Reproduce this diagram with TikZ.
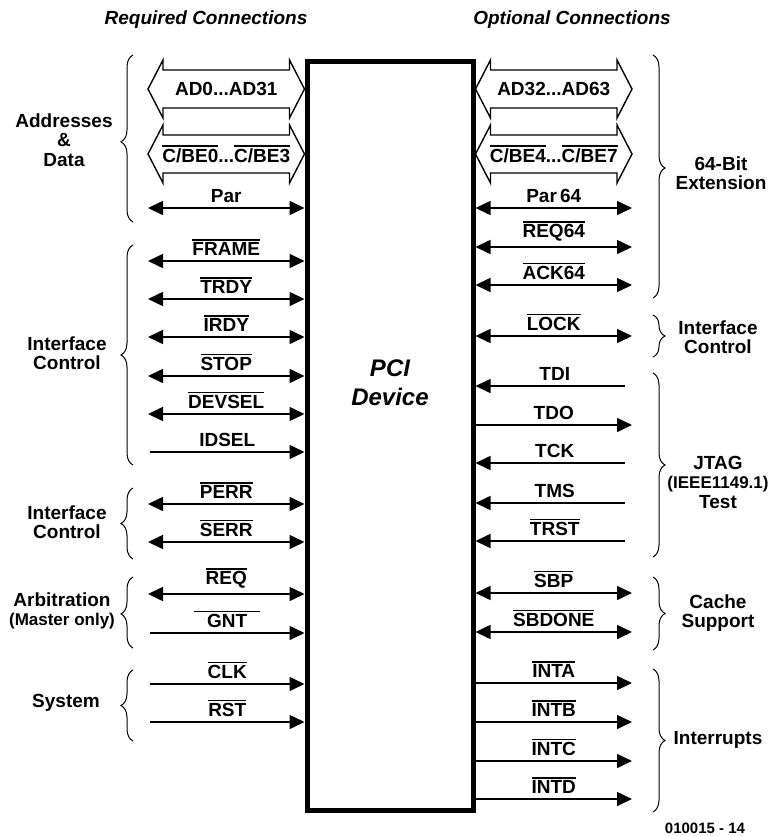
\documentclass[tikz,border=0pt]{standalone}
\usepackage{fontspec}
\setmainfont{Liberation Sans}
\usetikzlibrary{arrows.meta,positioning,decorations.pathreplacing}

\newcommand\lblfont{\bfseries\fontsize{19}{19}\selectfont}
\newcommand\grpfont{\bfseries\fontsize{19}{19.5}\selectfont}
\newcommand\nsig[1]{\vbox{\hrule height 1.3pt\kern 2pt\hbox{#1}}}
% hollow bus arrow: left tip x, y, node name, label
\newcommand\busarrow[4]{%
  \draw[busline] (#1,#2) -- ++(15,-29) -- ++(0,10) -- ++(126.5,0) -- ++(0,-10) -- ++(15,29)
     -- ++(-15,29) -- ++(0,-10) -- ++(-126.5,0) -- ++(0,10) -- cycle;
  \node[buslbl] (#3) at (#1+78.25,#2) {#4};}

\begin{document}
\begin{tikzpicture}[x=1pt,y=-1pt,
    >={Triangle[length=15pt,width=14pt]},
    sig/.style={line width=1.6pt},
    bidir/.style={sig,<->},
    inp/.style={sig,->},
    siglbl/.style={font=\lblfont,inner sep=0pt,above=4.5pt},
    busline/.style={line width=1.4pt,line join=miter,fill=white},
    buslbl/.style={font=\lblfont,inner sep=0pt},
    grp/.style={decorate,decoration={brace,amplitude=12pt},line width=1pt},
    grplbl/.style={font=\grpfont,align=center,inner sep=0pt},
    hdr/.style={font=\bfseries\itshape\fontsize{19}{19}\selectfont,inner sep=0pt}]
  \useasboundingbox (0,0) rectangle (771,836);
  \node[hdr] (req) at (206,20) {Required Connections};
  \node[hdr] (opt) at (572,20) {Optional Connections};
  \node[draw,line width=5pt,minimum width=166pt,minimum height=749pt,inner sep=0pt] (dev) at (390,435.5) {};
  \node[font=\bfseries\itshape\fontsize{24}{29}\selectfont,align=center] (devname) at (390,383) {PCI\\Device};

  % required connections
  \busarrow{148}{89}{ad0}{AD0...AD31}
  \busarrow{148}{154}{cbe0}{\nsig{C/BE0}...\nsig{C/BE3}}
  \draw[bidir] (148,208) coordinate (par) -- (par -| dev.west) node[midway,siglbl] {Par};
  \draw[bidir] (148,261) coordinate (frame) -- (frame -| dev.west) node[midway,siglbl] {\nsig{FRAME}};
  \draw[bidir] (148,299) coordinate (trdy) -- (trdy -| dev.west) node[midway,siglbl] {\nsig{TRDY}};
  \draw[bidir] (148,337) coordinate (irdy) -- (irdy -| dev.west) node[midway,siglbl] {\nsig{IRDY}};
  \draw[bidir] (148,376) coordinate (stop) -- (stop -| dev.west) node[midway,siglbl] {\nsig{STOP}};
  \draw[bidir] (148,414) coordinate (devsel) -- (devsel -| dev.west) node[midway,siglbl] {\nsig{DEVSEL}};
  \draw[inp] (150,452) coordinate (idsel) -- (idsel -| dev.west) node[midway,siglbl] {IDSEL};
  \draw[bidir] (148,504) coordinate (perr) -- (perr -| dev.west) node[midway,siglbl] {\nsig{PERR}};
  \draw[bidir] (148,542) coordinate (serr) -- (serr -| dev.west) node[midway,siglbl] {\nsig{SERR}};
  \draw[bidir] (148,594) coordinate (reqm) -- (reqm -| dev.west) node[midway,siglbl] {\nsig{REQ}};
  \draw[inp] (150,633) coordinate (gnt) -- (gnt -| dev.west) node[midway,siglbl] {\nsig{\hbox to 66pt{\hss GNT\hss}}};
  \draw[inp] (150,684) coordinate (clk) -- (clk -| dev.west) node[midway,siglbl] {\nsig{CLK}};
  \draw[inp] (150,722) coordinate (rst) -- (rst -| dev.west) node[midway,siglbl] {\nsig{RST}};

  % optional connections
  \busarrow{475.5}{89}{ad32}{AD32...AD63}
  \busarrow{475.5}{154}{cbe4}{\nsig{C/BE4}...\nsig{C/BE7}}
  \draw[bidir] (632,208) coordinate (par64) -- (par64 -| dev.east) node[midway,siglbl] {Par\,64};
  \draw[bidir] (632,247) coordinate (req64) -- (req64 -| dev.east) node[midway,siglbl] {\nsig{REQ64}};
  \draw[bidir] (632,285) coordinate (ack64) -- (ack64 -| dev.east) node[midway,siglbl] {\nsig{ACK64}};
  \draw[bidir] (632,336) coordinate (lock) -- (lock -| dev.east) node[midway,siglbl] {\nsig{LOCK}};
  \draw[inp] (625,386) coordinate (tdi) -- (tdi -| dev.east) node[pos=.47,siglbl] {TDI};
  \coordinate (tdo) at (632,425);
  \draw[inp] (tdo -| dev.east) -- (tdo) node[midway,siglbl] {TDO};
  \draw[inp] (625,463) coordinate (tck) -- (tck -| dev.east) node[pos=.47,siglbl] {TCK};
  \draw[inp] (625,503) coordinate (tms) -- (tms -| dev.east) node[pos=.47,siglbl] {TMS};
  \draw[inp] (625,541) coordinate (trst) -- (trst -| dev.east) node[pos=.47,siglbl] {\nsig{TRST}};
  \draw[bidir] (632,593) coordinate (sbp) -- (sbp -| dev.east) node[midway,siglbl] {\nsig{SBP}};
  \draw[bidir] (632,632) coordinate (sbdone) -- (sbdone -| dev.east) node[midway,siglbl] {\nsig{SBDONE}};
  \coordinate (inta) at (632,683);
  \coordinate (intb) at (632,722);
  \coordinate (intc) at (632,761);
  \coordinate (intd) at (632,799);
  \draw[inp] (inta -| dev.east) -- (inta) node[midway,siglbl] {\nsig{INTA}};
  \draw[inp] (intb -| dev.east) -- (intb) node[midway,siglbl] {\nsig{INTB}};
  \draw[inp] (intc -| dev.east) -- (intc) node[midway,siglbl] {\nsig{INTC}};
  \draw[inp] (intd -| dev.east) -- (intd) node[midway,siglbl] {\nsig{INTD}};

  % groups, left
  \draw[grp,decoration={aspect=0.48}] (133,222) -- (133,55);
  \draw[grp] (133,465) -- (133,245);
  \draw[grp] (133,559) -- (133,488);
  \draw[grp,decoration={aspect=0.48}] (133,648) -- (133,577);
  \draw[grp] (133,741) -- (133,670);
  \node[grplbl] (addr) at (64,140) {Addresses\\\&\\Data};
  \node[grplbl] (ictl) at (67,353) {Interface\\Control};
  \node[grplbl] (ictl2) at (67,522) {Interface\\Control};
  \node[grplbl] (arb) at (62,611) {Arbitration\\{\fontsize{17}{17}\selectfont(Master only)}};
  \node[grplbl] (sys) at (66,703) {System};

  % groups, right
  \draw[grp,decoration={aspect=0.465}] (653,55) -- (653,298);
  \draw[grp] (653,315) -- (653,357);
  \draw[grp] (653,373) -- (653,557);
  \draw[grp] (653,577) -- (653,650);
  \draw[grp] (653,669) -- (653,812);
  \node[grplbl] (ext) at (721,173) {64-Bit\\Extension};
  \node[grplbl] (ictl3) at (718,337) {Interface\\Control};
  \node[grplbl] (jtag) at (718,482) {JTAG\\{\fontsize{17}{17}\selectfont(IEEE1149.1)}\\Test};
  \node[grplbl] (cache) at (718,613) {Cache\\Support};
  \node[grplbl] (irq) at (718,740) {Interrupts};

  \node[font=\bfseries\fontsize{15}{15}\selectfont,inner sep=0pt] (fig) at (705,828) {010015 - 14};
\end{tikzpicture}
\end{document}
